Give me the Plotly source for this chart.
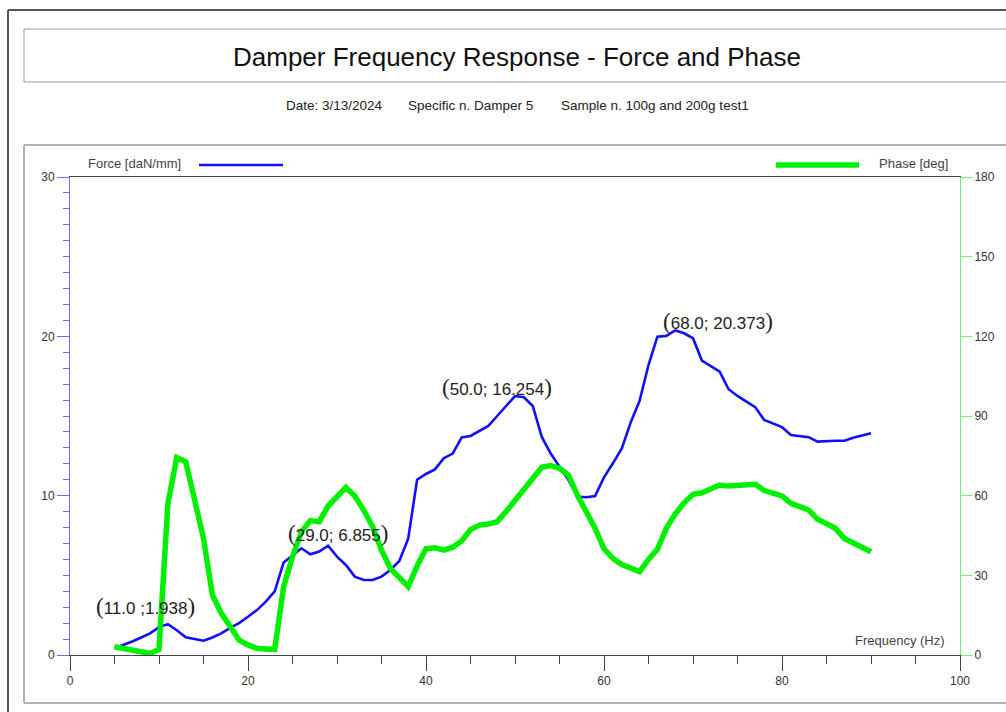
import plotly.graph_objects as go

# Excitation frequency (Hz)
freq = list(range(5, 91))

# Dynamic force amplitude (daN/mm)
force = [
    0.42, 0.62, 0.85, 1.10, 1.36, 1.75, 1.938, 1.55, 1.11, 1.00,
    0.90, 1.10, 1.36, 1.70, 2.00, 2.40, 2.82, 3.35, 4.00, 5.80,
    6.25, 6.70, 6.32, 6.49, 6.855, 6.17, 5.65, 4.92, 4.71, 4.71,
    4.92, 5.34, 5.90, 7.30, 11.00, 11.36, 11.65, 12.35, 12.64, 13.65,
    13.75, 14.08, 14.38, 15.00, 15.63, 16.254, 16.18, 15.63, 13.70, 12.66,
    11.82, 10.99, 9.94, 9.90, 9.98, 11.15, 12.03, 12.97, 14.60, 15.95,
    18.20, 19.98, 20.03, 20.373, 20.19, 19.88, 18.48, 18.14, 17.78, 16.68,
    16.26, 15.90, 15.55, 14.75, 14.50, 14.30, 13.81, 13.75, 13.67, 13.39,
    13.43, 13.45, 13.45, 13.64, 13.77, 13.92,
]

# Phase lag (deg)
phase = [
    3.1, 2.5, 1.9, 1.2, 0.6, 2.1, 57.1, 74.4, 72.8, 58.4,
    43.9, 22.6, 15.7, 10.7, 5.6, 3.8, 2.5, 2.3, 2.1, 25.7,
    37.0, 46.4, 50.6, 50.2, 56.1, 59.6, 63.1, 59.9, 54.6, 48.3,
    39.5, 32.6, 29.3, 25.7, 33.5, 40.0, 40.4, 39.5, 40.6, 42.9,
    47.2, 48.9, 49.3, 50.2, 54.0, 58.1, 62.1, 66.5, 70.7, 71.3,
    70.3, 67.8, 60.2, 54.0, 47.7, 40.0, 36.4, 34.1, 32.8, 31.4,
    36.0, 39.8, 47.7, 53.1, 57.3, 60.5, 61.1, 62.4, 64.0, 63.6,
    64.0, 64.3, 64.3, 61.9, 60.9, 59.9, 57.1, 55.8, 54.6, 51.1,
    49.6, 47.7, 43.9, 42.1, 40.6, 38.9,
]

# Force peaks picked out with (frequency; value) labels
peak_freq = [11, 29, 50, 68]
peak_sep = [" ;", "; ", "; ", "; "]
peak_shift = [(-22, 18), (10, 12), (-18, 9), (43, 9)]

x_ticks = [0, 20, 40, 60, 80, 100]
force_ticks = [0, 10, 20, 30]
phase_ticks = [0, 30, 60, 90, 120, 150, 180]

BLUE = "#1010ff"
GREEN = "#00f000"
TXT = "#333333"
SANS = "Liberation Sans, Arial, sans-serif"
SERIF = "Liberation Serif, Times New Roman, serif"

W, H = 1006, 712
ML, MR, MT, MB = 70, 46, 177, 57
PW, PH = W - ML - MR, H - MT - MB


def px(x):
    # page pixel column -> paper fraction of the plotting area
    return (x - ML) / PW


def py(y):
    # page pixel row -> paper fraction of the plotting area
    return (H - MB - y) / PH


fig = go.Figure()
fig.add_trace(go.Scatter(x=freq, y=force, mode="lines",
                         line=dict(color=BLUE, width=2.6), name="Force [daN/mm]",
                         yaxis="y"))
fig.add_trace(go.Scatter(x=freq, y=phase, mode="lines",
                         line=dict(color=GREEN, width=5.5), name="Phase [deg]",
                         yaxis="y2"))

annotations = []
for f, sep, (dx, dy) in zip(peak_freq, peak_sep, peak_shift):
    v = force[freq.index(f)]
    big = "<span style='font-family:Liberation Serif, serif; font-size:23px'>%s</span>"
    txt = big % "(" + f"{f:.1f}{sep}{v:.3f}" + big % ")"
    annotations.append(dict(x=f, y=v, xref="x", yref="y", text=txt, showarrow=False,
                            xanchor="center", yanchor="middle", xshift=dx, yshift=dy,
                            font=dict(family=SANS, size=17, color="#222222")))

# Title, header line and legend captions
annotations += [
    dict(x=px(517), y=py(57), xref="paper", yref="paper", showarrow=False,
         text="Damper Frequency Response - Force and Phase",
         font=dict(family=SANS, size=26, color="#111111"), xanchor="center", yanchor="middle"),
    dict(x=px(334), y=py(105), xref="paper", yref="paper", showarrow=False,
         text="Date: 3/13/2024", font=dict(family=SANS, size=13.5, color="#222222"),
         xanchor="center", yanchor="middle"),
    dict(x=px(470), y=py(105), xref="paper", yref="paper", showarrow=False,
         text="Specific n. Damper 5", font=dict(family=SANS, size=13.5, color="#222222"),
         xanchor="center", yanchor="middle"),
    dict(x=px(655), y=py(105), xref="paper", yref="paper", showarrow=False,
         text="Sample n. 100g and 200g test1", font=dict(family=SANS, size=13.5, color="#222222"),
         xanchor="center", yanchor="middle"),
    dict(x=px(86), y=py(163), xref="paper", yref="paper", showarrow=False,
         text="Force [daN/mm]", font=dict(family=SANS, size=13, color="#444444"),
         xanchor="left", yanchor="middle"),
    dict(x=px(950), y=py(163), xref="paper", yref="paper", showarrow=False,
         text="Phase [deg]", font=dict(family=SANS, size=13, color="#444444"),
         xanchor="right", yanchor="middle"),
    dict(x=px(947), y=py(640), xref="paper", yref="paper", showarrow=False,
         text="Frequency (Hz)", font=dict(family=SANS, size=13, color="#444444"),
         xanchor="right", yanchor="middle"),
]


def hline(x0, x1, y, color, width):
    return dict(type="line", xref="paper", yref="paper", x0=px(x0), x1=px(x1),
                y0=py(y), y1=py(y), line=dict(color=color, width=width))


def vline(x, y0, y1, color, width):
    return dict(type="line", xref="paper", yref="paper", x0=px(x), x1=px(x),
                y0=py(y0), y1=py(y1), line=dict(color=color, width=width))


shapes = [
    # outer frame
    hline(8, 1010, 10, "#555555", 2),
    vline(8, 10, 715, "#555555", 2),
    # title box
    hline(24, 1010, 29, "#999999", 1),
    hline(24, 1010, 82, "#999999", 1),
    vline(24, 29, 82, "#999999", 1),
    # chart box
    hline(24, 1010, 145, "#999999", 1.5),
    hline(24, 1010, 703, "#999999", 1.5),
    vline(24, 145, 703, "#999999", 1.5),
    # legend samples
    hline(199, 283, 165, BLUE, 2.6),
    dict(type="line", xref="paper", yref="paper", x0=px(776), x1=px(859),
         y0=py(165), y1=py(165), line=dict(color=GREEN, width=5.5)),
]

axis_font = dict(family=SANS, size=12, color=TXT)

fig.update_layout(
    width=W, height=H,
    margin=dict(l=ML, r=MR, t=MT, b=MB, pad=0),
    paper_bgcolor="white", plot_bgcolor="white",
    showlegend=False,
    xaxis=dict(range=[0, 100], tickvals=x_ticks, showgrid=False, zeroline=False,
               showline=True, linecolor="#444444", linewidth=1, mirror=True,
               ticks="outside", ticklen=15, tickcolor="#444444", tickwidth=1,
               minor=dict(dtick=5, ticks="outside", ticklen=8, tickcolor="#444444",
                          showgrid=False),
               tickfont=axis_font),
    yaxis=dict(range=[0, 30], tickvals=force_ticks, showgrid=False, zeroline=False,
               showline=True, linecolor="#7070ff", linewidth=1,
               ticks="outside", ticklen=12, tickcolor="#7070ff", tickwidth=1,
               minor=dict(dtick=1, ticks="outside", ticklen=6, tickcolor="#7070ff",
                          showgrid=False),
               tickfont=axis_font),
    yaxis2=dict(range=[0, 180], tickvals=phase_ticks, overlaying="y", side="right",
                showgrid=False, zeroline=False, showline=True, linecolor="#70f070",
                linewidth=1, ticks="outside", ticklen=11, tickcolor="#70f070",
                tickwidth=1, tickfont=axis_font),
    annotations=annotations,
    shapes=shapes,
)

fig.write_html("out.html", config=dict(displayModeBar=False))
